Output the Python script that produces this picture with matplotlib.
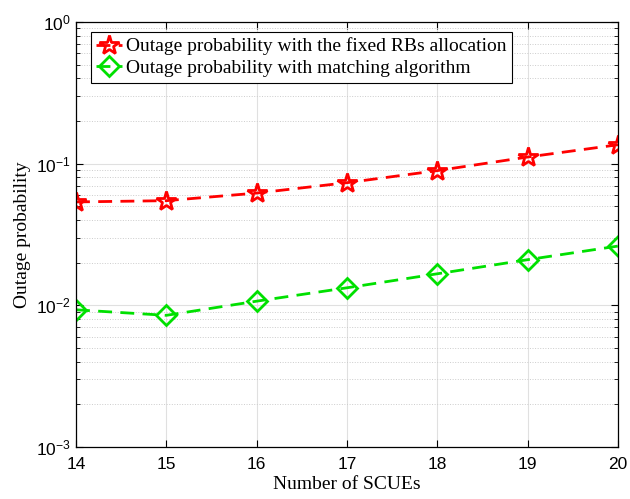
import matplotlib.pyplot as plt
import numpy as np

# === DATA ===
scues = [14, 15, 16, 17, 18, 19, 20]
fixed_rb = [0.0537, 0.0548, 0.062, 0.0734, 0.0893, 0.1114, 0.136]
matching = [0.0093, 0.0085, 0.0107, 0.0133, 0.0167, 0.021, 0.0262]

serif = ['Liberation Serif', 'DejaVu Serif']
sans = ['Liberation Sans', 'DejaVu Sans']

# === PLOT ===
fig = plt.figure(figsize=(6.3, 4.99), dpi=100)
ax = fig.add_axes([76 / 630, 1 - 447 / 499, 542 / 630, 425 / 499])

ax.semilogy(scues, fixed_rb, color='red', lw=2, ls=(0, (5, 3)), marker='*', ms=15,
            mfc='none', mec='red', mew=2,
            label='Outage probability with the fixed RBs allocation')
ax.semilogy(scues, matching, color='#00e000', lw=2, ls=(0, (5, 3)), marker='D', ms=10,
            mfc='none', mec='#00e000', mew=2,
            label='Outage probability with matching algorithm')

ax.set_xlim(14, 20)
ax.set_ylim(1e-3, 1)
ax.set_xticks(scues)

ax.grid(True, which='major', color='#e0e0e0', lw=0.8)
ax.grid(True, which='minor', axis='y', color='#cccccc', lw=0.7, ls=':')
ax.set_axisbelow(True)
ax.tick_params(which='both', direction='in', top=True, right=True)
ax.tick_params(which='major', length=5, labelsize=12.5)
ax.tick_params(axis='x', pad=7)
ax.tick_params(which='minor', length=3)
for lab in ax.get_xticklabels() + ax.get_yticklabels():
    lab.set_family(sans)
for s in ax.spines.values():
    s.set_linewidth(0.9)

ax.set_xlabel('Number of SCUEs', fontsize=14, family=serif, labelpad=3)
ax.set_ylabel('Outage probability', fontsize=14, family=serif, labelpad=4)

leg = ax.legend(loc='upper left', bbox_to_anchor=(0.027, 0.977),
                prop={'family': serif, 'size': 14}, handlelength=1.3,
                handletextpad=0.2, borderpad=0.3, labelspacing=0.2,
                fancybox=False, edgecolor='black', framealpha=1,
                borderaxespad=0)
leg.get_frame().set_linewidth(0.8)

plt.savefig('out.png', dpi=100)
